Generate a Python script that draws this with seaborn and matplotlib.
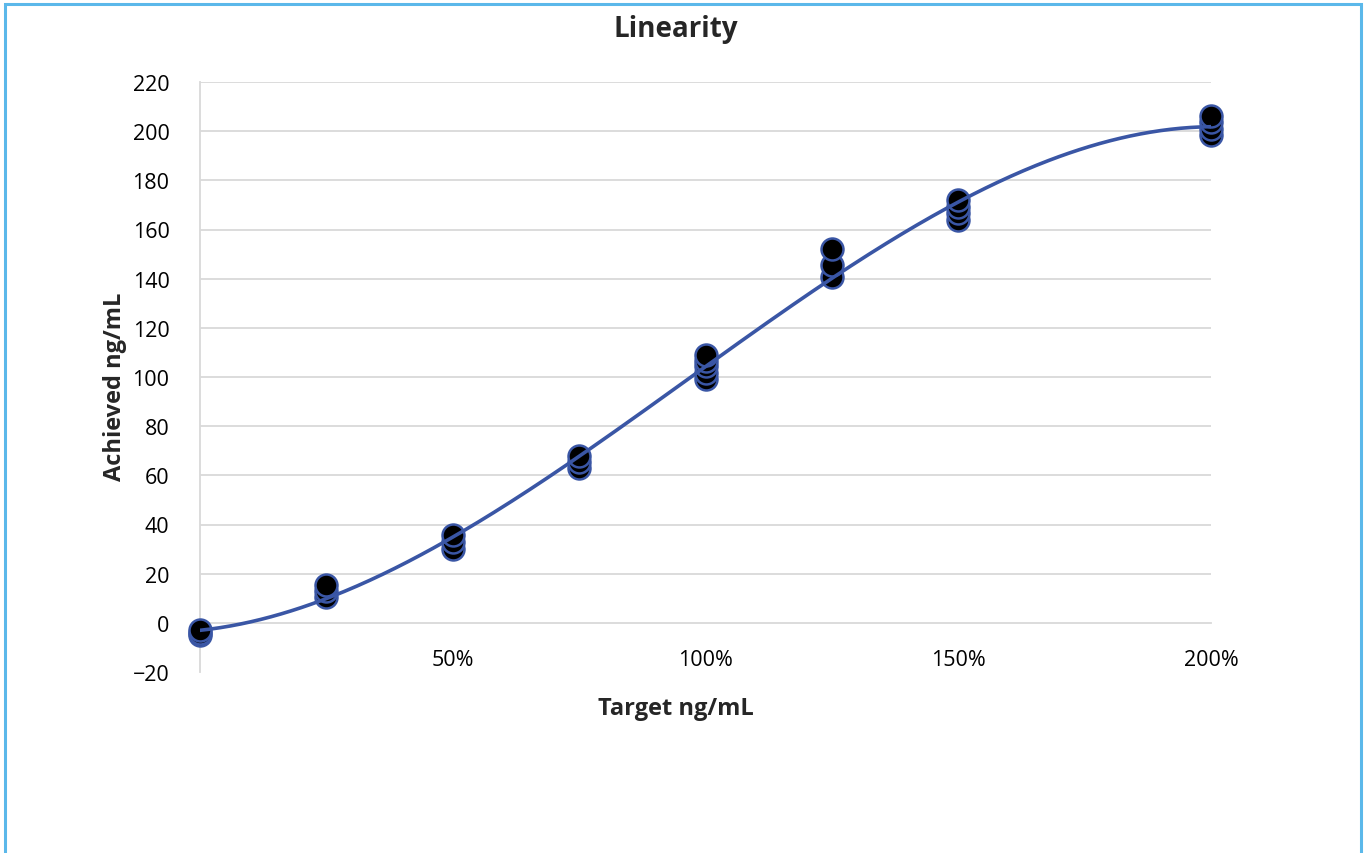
import numpy as np
import pandas as pd
import matplotlib
matplotlib.use("Agg")
import matplotlib.pyplot as plt
from matplotlib.patches import Rectangle
import seaborn as sns

# Replicate measurements at each target level (percent of nominal)
target_levels = [0, 25, 50, 75, 100, 125, 150, 200]
achieved = [
    [-5.0, -4.0, -3.0],
    [10.5, 13.0, 15.5],
    [30.0, 33.0, 35.8],
    [63.0, 65.4, 68.0],
    [99.2, 101.6, 104.5, 106.5, 109.0],
    [140.7, 145.5, 152.0],
    [164.0, 166.7, 169.0, 172.0],
    [198.4, 200.8, 203.7, 206.0],
]
x_ticks = [50, 100, 150, 200]
x_tick_labels = ["50%", "100%", "150%", "200%"]
y_ticks = list(range(-20, 221, 20))

rows = [(t, v) for t, vals in zip(target_levels, achieved) for v in vals]
df = pd.DataFrame(rows, columns=["target", "achieved"])

sns.set_theme(style="white")
plt.rcParams["font.family"] = ["Open Sans", "DejaVu Sans"]

W, H = 1367, 854
fig = plt.figure(figsize=(W / 100, H / 100), dpi=100)
ax = fig.add_axes([200 / W, 1 - 673 / H, (1211 - 200) / W, (673 - 83) / H])

grid_c = "#d9d9d9"
line_c = "#3a56a5"

# cubic trendline fitted through the replicates
coef = np.polyfit(df["target"], df["achieved"], 3)
xs = np.linspace(0, 200, 400)
fit = pd.DataFrame({"target": xs, "achieved": np.polyval(coef, xs)})

sns.scatterplot(data=df, x="target", y="achieved", ax=ax, s=250,
                color="black", edgecolor=line_c, linewidth=1.8, zorder=3,
                clip_on=False)
sns.lineplot(data=fit, x="target", y="achieved", ax=ax, color=line_c,
             linewidth=2.6, zorder=4)

ax.set_xlim(0, 200)
ax.set_ylim(-20, 220)
ax.set_yticks(y_ticks)
ax.set_yticklabels(["\u221220" if v < 0 else str(v) for v in y_ticks])
ax.set_xticks(x_ticks)
ax.set_xticklabels(x_tick_labels)

# horizontal gridlines from 0 upward
for v in y_ticks:
    if v > 0:
        ax.axhline(v, color=grid_c, linewidth=1.3, zorder=0)

for s in ["top", "right"]:
    ax.spines[s].set_visible(False)
ax.spines["left"].set_color(grid_c)
ax.spines["left"].set_linewidth(1.3)
ax.spines["bottom"].set_position(("data", 0))
ax.spines["bottom"].set_color(grid_c)
ax.spines["bottom"].set_linewidth(1.3)
ax.spines["bottom"].set_zorder(0)

ax.tick_params(axis="x", direction="out", length=7, width=1.3, color=grid_c,
               pad=12, labelcolor="black", labelsize=15.5)
ax.tick_params(axis="y", length=0, pad=22, labelcolor="black", labelsize=15.5)

ax.set_xlabel("")
ax.set_ylabel("")
fig.text(676 / W, 1 - 709 / H, "Target ng/mL", ha="center", va="center",
         fontsize=17, fontweight="bold")
fig.text(115 / W, 1 - 387 / H, "Achieved ng/mL", ha="center", va="center",
         rotation=90, fontsize=17, fontweight="bold")
fig.text(676 / W, 1 - 30 / H, "Linearity", ha="center", va="center",
         fontsize=20, fontweight="bold")

# outer frame of the chart area
fig.patches.append(Rectangle((5 / W, -0.05), (1361 - 5) / W, 1 - 5 / H + 0.05,
                             transform=fig.transFigure, fill=False,
                             edgecolor="#5bb8ea", linewidth=2.2))

fig.savefig("out.png", dpi=100)
